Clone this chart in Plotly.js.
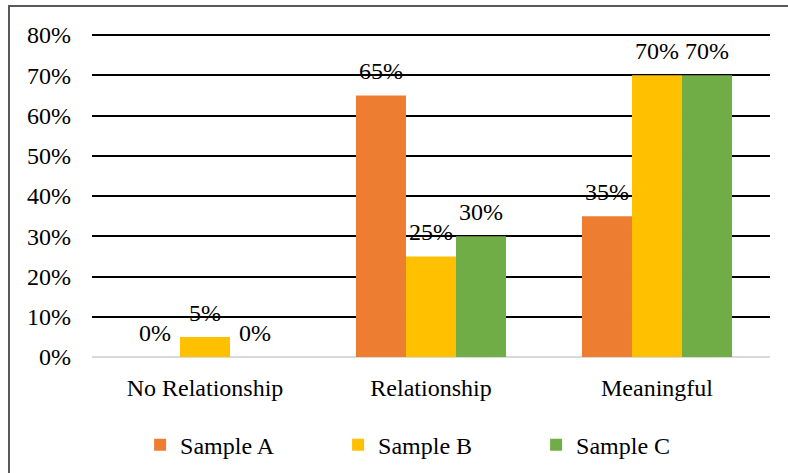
<!DOCTYPE html>
<html>
<head>
<meta charset="utf-8">
<script src="https://cdn.plot.ly/plotly-3.0.1.min.js"></script>
<style>
  html, body { margin: 0; padding: 0; background: #fff; }
  #wrap { position: relative; width: 788px; height: 473px; overflow: hidden; }
  #chart { width: 788px; height: 473px; }
  #frame {
    position: absolute; left: 8px; top: 5px; width: 800px; height: 480px;
    border-left: 2px solid #595959; border-top: 2px solid #595959;
    pointer-events: none;
  }
</style>
</head>
<body>
<div id="wrap">
  <div id="chart"></div>
  <div id="frame"></div>
</div>
<script>
// Categories and the share of each sample in them
const categories = ['No Relationship', 'Relationship', 'Meaningful'];
const seriesNames = ['Sample A', 'Sample B', 'Sample C'];
const sampleA = [0.00, 0.65, 0.35];
const sampleB = [0.05, 0.25, 0.70];
const sampleC = [0.00, 0.30, 0.70];
const seriesValues = [sampleA, sampleB, sampleC];
const seriesColors = ['#ED7D31', '#FFC000', '#70AD47'];

const FONT = 'Liberation Serif';
const W = 788, H = 473;
const margin = { l: 92, r: 18, t: 34, b: 115.5, autoexpand: false };
const bargap = 0.336;

const traces = seriesValues.map((vals, i) => ({
  type: 'bar',
  name: seriesNames[i],
  x: categories,
  y: vals,
  marker: { color: seriesColors[i], line: { width: 0 } },
  hoverinfo: 'skip'
}));

// Value labels sit above each bar; the horizontal offset follows the bar slot width
const plotW = W - margin.l - margin.r;
const slotPx = plotW / categories.length;
const barPx = slotPx * (1 - bargap) / seriesValues.length;
const annotations = [];
seriesValues.forEach((vals, i) => {
  vals.forEach((v, j) => {
    annotations.push({
      x: categories[j], y: v, xref: 'x', yref: 'y',
      text: Math.round(v * 100) + '%',
      showarrow: false,
      xshift: (i - (seriesValues.length - 1) / 2) * barPx,
      yanchor: 'middle', yshift: 24,
      font: { family: FONT, size: 24, color: '#000' }
    });
  });
});

const layout = {
  width: W, height: H,
  margin: margin,
  paper_bgcolor: '#fff', plot_bgcolor: '#fff',
  font: { family: FONT, size: 24, color: '#000' },
  barmode: 'group', bargap: bargap, bargroupgap: 0,
  showlegend: true,
  legend: {
    orientation: 'h', x: 0.509, xanchor: 'center', y: -0.273, yanchor: 'middle',
    font: { family: FONT, size: 24, color: '#000' },
    entrywidth: 153, entrywidthmode: 'pixels',
    itemclick: false, itemdoubleclick: false
  },
  xaxis: {
    type: 'category', showgrid: false, showline: false, zeroline: false,
    ticks: '', ticklabelstandoff: 14,
    tickfont: { family: FONT, size: 24, color: '#000' }
  },
  yaxis: {
    range: [0, 0.8025], tickvals: [0, 0.1, 0.2, 0.3, 0.4, 0.5, 0.6, 0.7, 0.8],
    tickformat: '.0%',
    showgrid: true, gridcolor: '#000', gridwidth: 2,
    zeroline: true, zerolinecolor: '#D9D9D9', zerolinewidth: 2,
    showline: false, ticks: '', ticklabelstandoff: 20,
    tickfont: { family: FONT, size: 24, color: '#000' }
  },
  annotations: annotations
};

Plotly.newPlot('chart', traces, layout, { displayModeBar: false, staticPlot: true });
</script>
</body>
</html>
